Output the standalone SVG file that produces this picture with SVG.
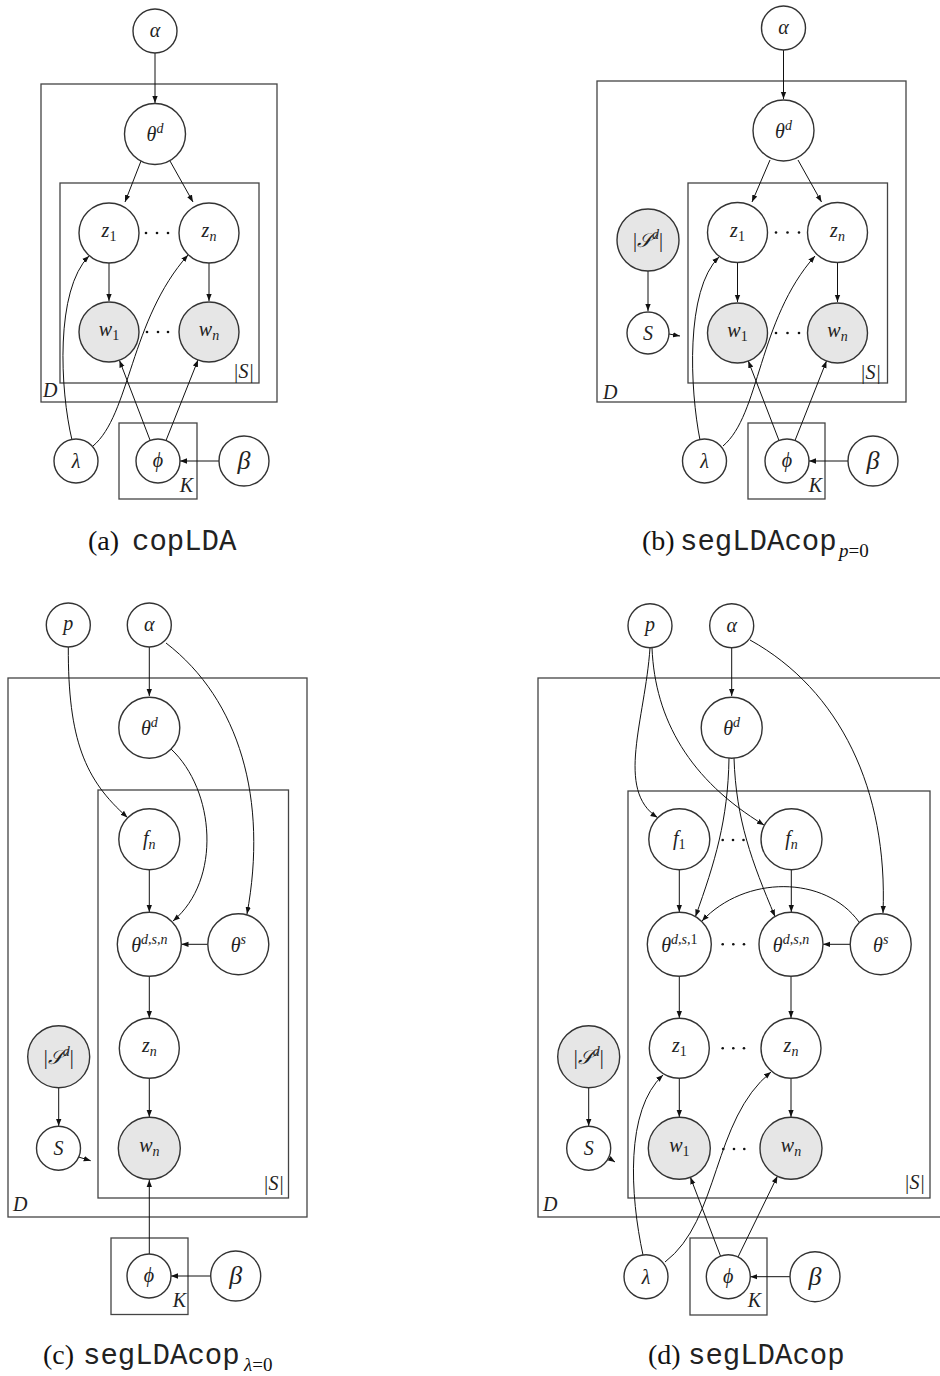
<svg xmlns="http://www.w3.org/2000/svg" width="940" height="1376" viewBox="0 0 940 1376">
<style>
.n{fill:#fff;stroke:#333;stroke-width:1.4}
.o{fill:#e6e6e6;stroke:#333;stroke-width:1.4}
.pl{fill:none;stroke:#444;stroke-width:1.3}
.e{fill:none;stroke:#111;stroke-width:1;marker-end:url(#ah)}
.lb{font-family:"Liberation Serif",serif;font-style:italic;font-size:20px;text-anchor:middle;fill:#222}
.big{font-size:26px}
.pt{font-family:"Liberation Serif",serif;font-style:italic;font-size:20px;fill:#222}
.up{font-style:normal}
.sm{font-size:14px}
.sc{font-family:"DejaVu Serif","Noto Sans",serif}
.cap{font-family:"Liberation Serif",serif;font-size:28px;fill:#111}
.mono{font-family:"Liberation Mono",monospace;font-size:29px;fill:#222}
.sub{font-family:"Liberation Serif",serif;font-size:19px;fill:#111}
.dot{fill:#111}
</style>
<defs>
<marker id="ah" viewBox="0 0 10 10" refX="10" refY="5" markerWidth="7" markerHeight="7" markerUnits="userSpaceOnUse" orient="auto"><path d="M0,1.2 L10,5 L0,8.8 z" fill="#111"/></marker>
</defs>

<!-- ================= (a) copLDA ================= -->
<g id="a-plates">
<rect class="pl" x="41" y="84" width="236" height="318"/>
<text class="pt" x="43" y="397">D</text>
<rect class="pl" x="60" y="183" width="199" height="200"/>
<text class="pt" x="254" y="378" text-anchor="end">|S|</text>
<rect class="pl" x="119" y="423" width="78" height="76"/>
<text class="pt" x="193" y="492" text-anchor="end">K</text>
</g>
<g id="a-edges">
<path class="e" d="M155,53 L155,103"/>
<path class="e" d="M141,161 L125,202"/>
<path class="e" d="M170,161 L193,202"/>
<path class="e" d="M109,263 L109,301"/>
<path class="e" d="M209,263 L209,301"/>
<path class="e" d="M72,440 C60,390 55,290 89,256"/>
<path class="e" d="M93,446 C130,415 130,320 188,255"/>
<path class="e" d="M150,440 L119.5,360.5"/>
<path class="e" d="M166,440.5 L198,360"/>
<path class="e" d="M219,461 L180,461"/>
</g>
<g id="a-dots"><circle class="dot" cx="146" cy="233" r="1.3"/><circle class="dot" cx="157" cy="233" r="1.3"/><circle class="dot" cx="168" cy="233" r="1.3"/><circle class="dot" cx="147" cy="332" r="1.3"/><circle class="dot" cx="158" cy="332" r="1.3"/><circle class="dot" cx="168" cy="332" r="1.3"/></g>
<g id="a-alpha"><circle class="n" cx="155" cy="31" r="22"/><text class="lb" x="155" y="37">α</text></g>
<g id="a-thetad"><circle class="n" cx="155" cy="134" r="30.5"/><text class="lb" x="155" y="141">θ<tspan class="sm" dy="-8">d</tspan></text></g>
<g id="a-z1"><circle class="n" cx="109" cy="233" r="30"/><text class="lb" x="109" y="237">z<tspan class="sm up" dy="4">1</tspan></text></g>
<g id="a-zn"><circle class="n" cx="209" cy="233" r="30"/><text class="lb" x="209" y="237">z<tspan class="sm" dy="4">n</tspan></text></g>
<g id="a-w1"><circle class="o" cx="109" cy="332" r="30"/><text class="lb" x="109" y="336">w<tspan class="sm up" dy="4">1</tspan></text></g>
<g id="a-wn"><circle class="o" cx="209" cy="332" r="30"/><text class="lb" x="209" y="336">w<tspan class="sm" dy="4">n</tspan></text></g>
<g id="a-lambda"><circle class="n" cx="76" cy="461" r="22"/><text class="lb" x="76" y="468">λ</text></g>
<g id="a-phi"><circle class="n" cx="158" cy="461" r="22"/><text class="lb" x="158" y="467">ϕ</text></g>
<g id="a-beta"><circle class="n" cx="244" cy="461" r="25"/><text class="lb big" x="244" y="469">β</text></g>
<g id="a-caption"><text class="cap" x="88" y="550">(a)</text><text class="mono" x="132" y="550">copLDA</text></g>

<!-- ================= (b) segLDAcop p=0 ================= -->
<g id="b-plates">
<rect class="pl" x="597" y="81" width="309" height="321"/>
<text class="pt" x="603" y="399">D</text>
<rect class="pl" x="688" y="183" width="199.5" height="200"/>
<text class="pt" x="881" y="379" text-anchor="end">|S|</text>
<rect class="pl" x="748" y="423" width="77" height="76"/>
<text class="pt" x="822" y="492" text-anchor="end">K</text>
</g>
<g id="b-edges">
<path class="e" d="M783.5,50 L783.5,99"/>
<path class="e" d="M770,160 L752,202"/>
<path class="e" d="M798,160 L821.5,202"/>
<path class="e" d="M737.5,263 L737.5,302"/>
<path class="e" d="M837.5,263 L837.5,302"/>
<path class="e" d="M648,271 L648,311"/>
<path class="e" d="M669,334 L680,336"/>
<path class="e" d="M700,440 C690,390 685,290 719,257"/>
<path class="e" d="M723,446 C760,415 758,320 815,256"/>
<path class="e" d="M779,440.5 L748.3,361"/>
<path class="e" d="M795,440.5 L826.5,361"/>
<path class="e" d="M848,461 L809,461"/>
</g>
<g id="b-dots"><circle class="dot" cx="776" cy="232.5" r="1.3"/><circle class="dot" cx="787.5" cy="232.5" r="1.3"/><circle class="dot" cx="799" cy="232.5" r="1.3"/><circle class="dot" cx="776" cy="333" r="1.3"/><circle class="dot" cx="787.5" cy="333" r="1.3"/><circle class="dot" cx="799" cy="333" r="1.3"/></g>
<g id="b-alpha"><circle class="n" cx="783.5" cy="28" r="22"/><text class="lb" x="783.5" y="34">α</text></g>
<g id="b-thetad"><circle class="n" cx="783.5" cy="130.5" r="30.5"/><text class="lb" x="783.5" y="138">θ<tspan class="sm" dy="-8">d</tspan></text></g>
<g id="b-z1"><circle class="n" cx="737.5" cy="232.5" r="30"/><text class="lb" x="737.5" y="237">z<tspan class="sm up" dy="4">1</tspan></text></g>
<g id="b-zn"><circle class="n" cx="837.5" cy="232.5" r="30"/><text class="lb" x="837.5" y="237">z<tspan class="sm" dy="4">n</tspan></text></g>
<g id="b-w1"><circle class="o" cx="737.5" cy="333" r="30"/><text class="lb" x="737.5" y="337">w<tspan class="sm up" dy="4">1</tspan></text></g>
<g id="b-wn"><circle class="o" cx="837.5" cy="333" r="30"/><text class="lb" x="837.5" y="337">w<tspan class="sm" dy="4">n</tspan></text></g>
<g id="b-Sd"><circle class="o" cx="648" cy="240" r="31"/><text class="lb" x="648" y="247"><tspan class="up">|</tspan><tspan class="sc">𝒮</tspan><tspan class="sm" dy="-8">d</tspan><tspan class="up" dy="8">|</tspan></text></g>
<g id="b-S"><circle class="n" cx="648" cy="333" r="21"/><text class="lb" x="648" y="340">S</text></g>
<g id="b-lambda"><circle class="n" cx="704.5" cy="461" r="22"/><text class="lb" x="704.5" y="468">λ</text></g>
<g id="b-phi"><circle class="n" cx="787" cy="461" r="22"/><text class="lb" x="787" y="467">ϕ</text></g>
<g id="b-beta"><circle class="n" cx="873" cy="461" r="25"/><text class="lb big" x="873" y="469">β</text></g>
<g id="b-caption"><text class="cap" x="642" y="550">(b)</text><text class="mono" x="680" y="550">segLDAcop</text><text class="sub" x="839" y="557"><tspan font-style="italic">p</tspan>=0</text></g>

<!-- ================= (c) segLDAcop lambda=0 ================= -->
<g id="c-plates">
<rect class="pl" x="8" y="678" width="299" height="539"/>
<text class="pt" x="13" y="1211">D</text>
<rect class="pl" x="98" y="790" width="190.5" height="408"/>
<text class="pt" x="284" y="1190" text-anchor="end">|S|</text>
<rect class="pl" x="111" y="1238" width="77" height="76.5"/>
<text class="pt" x="186" y="1307" text-anchor="end">K</text>
</g>
<g id="c-edges">
<path class="e" d="M149.3,647 L149.3,696"/>
<path class="e" d="M68.3,647 C68,740 85,780 127.5,817.5"/>
<path class="e" d="M171,749 C215,790 222,880 173,921"/>
<path class="e" d="M166,643 C240,700 268,800 247,914"/>
<path class="e" d="M149.3,870 L149.3,912"/>
<path class="e" d="M207.8,944.3 L181.5,944.3"/>
<path class="e" d="M149.3,976.5 L149.3,1018"/>
<path class="e" d="M149.3,1078.5 L149.3,1117"/>
<path class="e" d="M58.7,1088 L58.7,1126"/>
<path class="e" d="M78.5,1157 L90.7,1160.7"/>
<path class="e" d="M149.3,1254 L149.3,1180"/>
<path class="e" d="M210.7,1276 L171,1276"/>
</g>
<g id="c-p"><circle class="n" cx="68.3" cy="625" r="22"/><text class="lb" x="68.3" y="630">p</text></g>
<g id="c-alpha"><circle class="n" cx="149.3" cy="625" r="22"/><text class="lb" x="149.3" y="631">α</text></g>
<g id="c-thetad"><circle class="n" cx="149.3" cy="727.7" r="30.5"/><text class="lb" x="149.3" y="735">θ<tspan class="sm" dy="-8">d</tspan></text></g>
<g id="c-fn"><circle class="n" cx="149.3" cy="839.3" r="30.5"/><text class="lb" x="149.3" y="845">f<tspan class="sm" dy="4">n</tspan></text></g>
<g id="c-thetadsn"><circle class="n" cx="149.3" cy="944.3" r="32"/><text class="lb" x="149.3" y="952">θ<tspan class="sm" dy="-8">d,s,n</tspan></text></g>
<g id="c-thetas"><circle class="n" cx="238.3" cy="944.3" r="30.5"/><text class="lb" x="238.3" y="952">θ<tspan class="sm" dy="-8">s</tspan></text></g>
<g id="c-zn"><circle class="n" cx="149.3" cy="1048.3" r="30"/><text class="lb" x="149.3" y="1052">z<tspan class="sm" dy="4">n</tspan></text></g>
<g id="c-Sd"><circle class="o" cx="58.7" cy="1056.7" r="31"/><text class="lb" x="58.7" y="1064"><tspan class="up">|</tspan><tspan class="sc">𝒮</tspan><tspan class="sm" dy="-8">d</tspan><tspan class="up" dy="8">|</tspan></text></g>
<g id="c-S"><circle class="n" cx="58.5" cy="1148.3" r="22"/><text class="lb" x="58.5" y="1155">S</text></g>
<g id="c-wn"><circle class="o" cx="149.3" cy="1148.3" r="31"/><text class="lb" x="149.3" y="1152">w<tspan class="sm" dy="4">n</tspan></text></g>
<g id="c-phi"><circle class="n" cx="149" cy="1276" r="22"/><text class="lb" x="149" y="1282">ϕ</text></g>
<g id="c-beta"><circle class="n" cx="235.7" cy="1276" r="25"/><text class="lb big" x="235.7" y="1284">β</text></g>
<g id="c-caption"><text class="cap" x="43" y="1364">(c)</text><text class="mono" x="83" y="1364">segLDAcop</text><text class="sub" x="244" y="1371"><tspan font-style="italic">λ</tspan>=0</text></g>

<!-- ================= (d) segLDAcop ================= -->
<g id="d-plates">
<rect class="pl" x="538" y="678" width="410" height="539"/>
<text class="pt" x="543" y="1211">D</text>
<rect class="pl" x="628" y="791" width="302" height="407"/>
<text class="pt" x="925" y="1189" text-anchor="end">|S|</text>
<rect class="pl" x="690" y="1238" width="77" height="77"/>
<text class="pt" x="761" y="1307" text-anchor="end">K</text>
</g>
<g id="d-edges">
<path class="e" d="M731.7,648 L731.7,696"/>
<path class="e" d="M650,648 C645,720 615,790 657.5,817.5"/>
<path class="e" d="M652,648 C655,720 690,780 764,825"/>
<path class="e" d="M729,758 C728,820 715,862 695.5,916.5"/>
<path class="e" d="M734,758 C736,820 752,862 775,916.5"/>
<path class="e" d="M859,922 C825,875 745,875 702,921"/>
<path class="e" d="M750,640 C840,690 888,790 883,913"/>
<path class="e" d="M679.3,870 L679.3,912"/>
<path class="e" d="M791.3,870 L791.3,912"/>
<path class="e" d="M850,944.3 L823,944.3"/>
<path class="e" d="M679.3,976.5 L679.3,1018"/>
<path class="e" d="M791,976.5 L791,1018"/>
<path class="e" d="M679.3,1078.5 L679.3,1117"/>
<path class="e" d="M791,1078.5 L791,1117"/>
<path class="e" d="M588.7,1088 L588.7,1126"/>
<path class="e" d="M606,1156 L615,1162"/>
<path class="e" d="M643,1255 C630,1195 625,1110 663,1075"/>
<path class="e" d="M665,1262 C720,1220 712,1120 771,1072"/>
<path class="e" d="M720.5,1256 L690.4,1177.3"/>
<path class="e" d="M738,1257 L777.4,1176.2"/>
<path class="e" d="M790,1276.7 L750.3,1276.7"/>
</g>
<g id="d-dots">
<circle class="dot" cx="722.7" cy="840" r="1.3"/><circle class="dot" cx="733" cy="840" r="1.3"/><circle class="dot" cx="743.5" cy="840" r="1.3"/>
<circle class="dot" cx="722.7" cy="944.3" r="1.3"/><circle class="dot" cx="733.3" cy="944.3" r="1.3"/><circle class="dot" cx="744" cy="944.3" r="1.3"/>
<circle class="dot" cx="722.7" cy="1048.3" r="1.3"/><circle class="dot" cx="733.3" cy="1048.3" r="1.3"/><circle class="dot" cx="744" cy="1048.3" r="1.3"/>
<circle class="dot" cx="723.3" cy="1149" r="1.3"/><circle class="dot" cx="734" cy="1149" r="1.3"/><circle class="dot" cx="744.3" cy="1149" r="1.3"/>
</g>
<g id="d-p"><circle class="n" cx="650" cy="625.7" r="22"/><text class="lb" x="650" y="631">p</text></g>
<g id="d-alpha"><circle class="n" cx="731.7" cy="625.7" r="22"/><text class="lb" x="731.7" y="632">α</text></g>
<g id="d-thetad"><circle class="n" cx="731.7" cy="727.7" r="30.5"/><text class="lb" x="731.7" y="735">θ<tspan class="sm" dy="-8">d</tspan></text></g>
<g id="d-f1"><circle class="n" cx="679.3" cy="839.3" r="30.5"/><text class="lb" x="679.3" y="845">f<tspan class="sm up" dy="4">1</tspan></text></g>
<g id="d-fn"><circle class="n" cx="791.5" cy="839.3" r="30.5"/><text class="lb" x="791.5" y="845">f<tspan class="sm" dy="4">n</tspan></text></g>
<g id="d-thetads1"><circle class="n" cx="679.3" cy="944.3" r="32"/><text class="lb" x="679.3" y="952">θ<tspan class="sm" dy="-8">d,s,<tspan class="up">1</tspan></tspan></text></g>
<g id="d-thetadsn"><circle class="n" cx="791" cy="944.3" r="32"/><text class="lb" x="791" y="952">θ<tspan class="sm" dy="-8">d,s,n</tspan></text></g>
<g id="d-thetas"><circle class="n" cx="880.7" cy="944.3" r="30.5"/><text class="lb" x="880.7" y="952">θ<tspan class="sm" dy="-8">s</tspan></text></g>
<g id="d-z1"><circle class="n" cx="679.3" cy="1048.3" r="30"/><text class="lb" x="679.3" y="1052">z<tspan class="sm up" dy="4">1</tspan></text></g>
<g id="d-zn"><circle class="n" cx="791" cy="1048.3" r="30"/><text class="lb" x="791" y="1052">z<tspan class="sm" dy="4">n</tspan></text></g>
<g id="d-Sd"><circle class="o" cx="588.7" cy="1056.7" r="31"/><text class="lb" x="588.7" y="1064"><tspan class="up">|</tspan><tspan class="sc">𝒮</tspan><tspan class="sm" dy="-8">d</tspan><tspan class="up" dy="8">|</tspan></text></g>
<g id="d-S"><circle class="n" cx="588.7" cy="1148.3" r="22"/><text class="lb" x="588.7" y="1155">S</text></g>
<g id="d-w1"><circle class="o" cx="679.3" cy="1148.3" r="31"/><text class="lb" x="679.3" y="1152">w<tspan class="sm up" dy="4">1</tspan></text></g>
<g id="d-wn"><circle class="o" cx="791" cy="1148.3" r="31"/><text class="lb" x="791" y="1152">w<tspan class="sm" dy="4">n</tspan></text></g>
<g id="d-lambda"><circle class="n" cx="646" cy="1276.7" r="22"/><text class="lb" x="646" y="1284">λ</text></g>
<g id="d-phi"><circle class="n" cx="728.3" cy="1276.7" r="22"/><text class="lb" x="728.3" y="1283">ϕ</text></g>
<g id="d-beta"><circle class="n" cx="815" cy="1276.7" r="25"/><text class="lb big" x="815" y="1285">β</text></g>
<g id="d-caption"><text class="cap" x="648" y="1364">(d)</text><text class="mono" x="688" y="1364">segLDAcop</text></g>
</svg>
